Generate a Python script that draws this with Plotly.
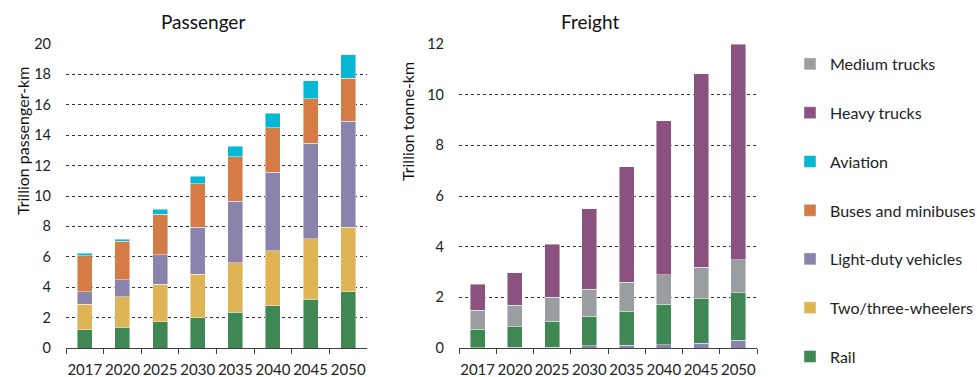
import plotly.graph_objects as go

years = ["2017", "2020", "2025", "2030", "2035", "2040", "2045", "2050"]

# Passenger (trillion passenger-km)
p_rail = [1.21, 1.38, 1.74, 2.00, 2.35, 2.79, 3.21, 3.71]
p_two_three = [1.67, 2.00, 2.44, 2.86, 3.25, 3.61, 3.98, 4.25]
p_ldv = [0.83, 1.12, 1.95, 3.07, 4.05, 5.16, 6.28, 6.96]
p_buses = [2.36, 2.53, 2.68, 2.86, 2.94, 2.94, 2.93, 2.82]
p_aviation = [0.15, 0.13, 0.31, 0.51, 0.68, 0.93, 1.18, 1.56]

# Freight (trillion tonne-km)
f_ldv = [0.01, 0.02, 0.03, 0.09, 0.10, 0.13, 0.18, 0.30]
f_rail = [0.73, 0.81, 1.02, 1.16, 1.35, 1.60, 1.76, 1.88]
f_medium = [0.75, 0.86, 0.95, 1.06, 1.15, 1.17, 1.25, 1.31]
f_heavy = [1.02, 1.28, 2.10, 3.19, 4.55, 6.07, 7.64, 8.51]

colors = {
    "Rail": "#3f8753",
    "Two/three-wheelers": "#dfb454",
    "Light-duty vehicles": "#8a84ac",
    "Buses and minibuses": "#d57b45",
    "Aviation": "#08b8d2",
    "Heavy trucks": "#8b527f",
    "Medium trucks": "#9a9ea1",
}
rank = {
    "Medium trucks": 1, "Heavy trucks": 2, "Aviation": 3, "Buses and minibuses": 4,
    "Light-duty vehicles": 5, "Two/three-wheelers": 6, "Rail": 7,
}
legend_of = {
    "Medium trucks": "legend", "Heavy trucks": "legend", "Aviation": "legend",
    "Buses and minibuses": "legend", "Light-duty vehicles": "legend2",
    "Two/three-wheelers": "legend2", "Rail": "legend2",
}

FONT = "Lato, 'Open Sans', sans-serif"
fig = go.Figure()

def add(name, vals, xa, ya, show):
    fig.add_trace(go.Bar(
        x=years, y=vals, name=name, xaxis=xa, yaxis=ya,
        marker=dict(color=colors[name], line=dict(color="rgba(255,255,255,0.55)", width=0.8)),
        legendgroup=name, showlegend=show, legendrank=rank[name], legend=legend_of[name],
    ))

add("Rail", p_rail, "x", "y", True)
add("Two/three-wheelers", p_two_three, "x", "y", True)
add("Light-duty vehicles", p_ldv, "x", "y", True)
add("Buses and minibuses", p_buses, "x", "y", True)
add("Aviation", p_aviation, "x", "y", True)

add("Light-duty vehicles", f_ldv, "x2", "y2", False)
add("Rail", f_rail, "x2", "y2", False)
add("Medium trucks", f_medium, "x2", "y2", True)
add("Heavy trucks", f_heavy, "x2", "y2", True)

W, H = 977, 377
top, bottom = 44, 348
ph = bottom - top

def px(x):
    return x / W

def py(y):
    return (bottom - y) / ph

xcommon = dict(
    showline=True, linecolor="#404040", linewidth=1, ticks="outside", tickson="boundaries",
    ticklen=5, tickcolor="#404040", showgrid=False, tickfont=dict(size=15, color="#222"),
    tickangle=0, automargin=False, ticklabelstandoff=8,
)
ycommon = dict(
    showline=False, ticks="", showgrid=True, gridcolor="#333", griddash="dot", gridwidth=1,
    zeroline=False, tickfont=dict(size=14.5, color="#222"), ticklabelstandoff=14,
    automargin=False,
)

def ann(text, x, y, size, angle=0):
    return dict(text=text, x=px(x), y=py(y), xref="paper", yref="paper",
                xanchor="center", yanchor="middle", showarrow=False,
                textangle=angle, font=dict(size=size, color="#111"))

legend_common = dict(
    xref="container", yref="container", xanchor="left", yanchor="top",
    traceorder="grouped", tracegroupgap=25,
    font=dict(size=16, color="#222"), itemwidth=30, bgcolor="rgba(0,0,0,0)",
)

fig.update_layout(
    width=W, height=H,
    margin=dict(l=0, r=0, t=top, b=H - bottom, autoexpand=False),
    barmode="stack", bargap=0.6,
    plot_bgcolor="white", paper_bgcolor="white",
    font=dict(family=FONT, color="#222"),
    xaxis=dict(domain=[px(66), px(367)], anchor="y", **xcommon),
    yaxis=dict(domain=[0, 1], anchor="x", range=[0, 20], dtick=2, **ycommon),
    xaxis2=dict(domain=[px(459), px(757)], anchor="y2", **xcommon),
    yaxis2=dict(domain=[0, 1], anchor="x2", range=[0, 12], dtick=2, **ycommon),
    legend=dict(x=790 / W, y=1 - 47 / H, **legend_common),
    legend2=dict(x=790 / W, y=1 - 242 / H, **legend_common),
    annotations=[
        ann("Passenger", 203, 22, 19),
        ann("Freight", 590, 22, 19),
        ann("Trillion passenger-km", 22, 141, 16, -90),
        ann("Trillion tonne-km", 408, 122, 16, -90),
    ],
)

fig.write_html("out.html", post_script="document.body.style.margin='0';",
               config={"displayModeBar": False})
